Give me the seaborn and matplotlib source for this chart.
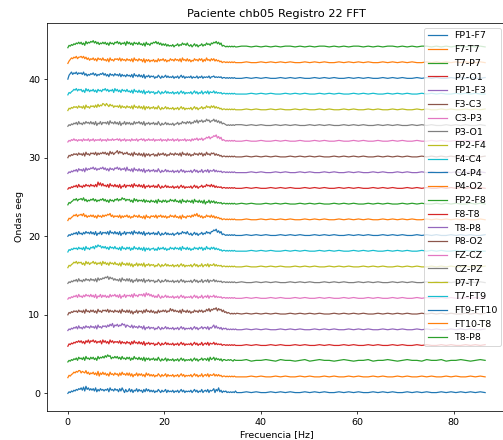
import numpy as np
import pandas as pd
import matplotlib
matplotlib.use("Agg")
import matplotlib.pyplot as plt
import seaborn as sns

# Channel names (bottom trace first)
channels = ["FP1-F7", "F7-T7", "T7-P7", "P7-O1", "FP1-F3", "F3-C3", "C3-P3",
            "P3-O1", "FP2-F4", "F4-C4", "C4-P4", "P4-O2", "FP2-F8", "F8-T8",
            "T8-P8", "P8-O2", "FZ-CZ", "CZ-PZ", "P7-T7", "T7-FT9", "FT9-FT10",
            "FT10-T8", "T8-P8"]

# Vertical offset between traces
offset_step = 2

# Spectral magnitude, one digit = 0.1 units.
# low band: 0-35 Hz every 0.25 Hz ; high band: 36-86.5 Hz
low_band = [
    "0213243546" "5748395746" "4637253645" "3546274536" "4526374152" "3625143625" "3415263524"
    "2413253142" "3514232413" "2413524132" "3241352413" "2513425143" "4615372413" "2312121213" "1",
    "0324576879" "9687695746" "5746382647" "4635274536" "4526374536" "3625143625" "3524163524"
    "2413253142" "3514232413" "2413524132" "3241352413" "2513425143" "3524242312" "2121212121" "1",
    "0213243526" "4536274536" "4635274657" "5869784657" "5746374536" "4625374536" "3526153524"
    "3524263142" "3514232413" "2413524132" "3241352413" "3524425163" "4625342413" "3223232132" "2",
    "0324354657" "5746375847" "6857465738" "5746385746" "5647364536" "4526374536" "3526143524"
    "3413253142" "3524232413" "2413524132" "3241352413" "2513425143" "3524232312" "2121212121" "1",
    "0213243526" "3425364536" "4536274536" "5647586947" "6857697847" "6547364536" "4526143524"
    "3413253142" "3524232413" "2413524132" "3241352413" "3524425143" "5736342413" "2312121212" "1",
    "0324354536" "4536274536" "4635274536" "5647364536" "4536274536" "3625143625" "4526374536"
    "3524263546" "4635485746" "4536274536" "3524364536" "4635475847" "6879586746" "3423212121" "2",
    "0213243526" "3425364536" "3526143625" "3524263546" "3526143625" "4536274536" "5647385746"
    "3524263142" "3524232413" "2413524132" "3241352413" "2513425143" "3524232312" "2121212121" "1",
    "0213243526" "3425364536" "4536274657" "6879586746" "4536274536" "3625143625" "3526143524"
    "3413253142" "3524232413" "2413524132" "3241352413" "2513425143" "3524232312" "2121212121" "1",
    "0324576857" "6746385746" "6857465738" "5746375647" "4536274536" "3625143625" "3526143524"
    "3413253142" "3524232413" "2413524132" "3241352413" "2513425143" "3524232312" "2121212121" "1",
    "0324354536" "4536274536" "5748697857" "5746375647" "4536274536" "4625374536" "3526153524"
    "4524263546" "3524364536" "4536274536" "3524364536" "4625374536" "4635342312" "2121212121" "1",
    "0213243526" "3425364536" "3526143625" "4536274536" "3526143625" "4536274536" "3526143524"
    "3524263142" "3524232413" "3524364536" "3241352413" "3524364536" "6879574623" "2121212121" "1",
    "0324576857" "7869574657" "5746375647" "5768795746" "5647364657" "4635475647" "4536274536"
    "5647365746" "4635475647" "4536274536" "5647586957" "4635475647" "4635342312" "2121212121" "1",
    "0324576857" "7869574657" "6857465768" "5746375647" "6857697857" "6746385746" "5647364536"
    "4536274536" "4635475647" "4536274536" "4536274536" "3526143625" "3524232312" "2121212121" "1",
    "0213243526" "3425364536" "4536395847" "4536274536" "3526143625" "4536274536" "3526143524"
    "3524263142" "3524232413" "2413524132" "3241352413" "3524364536" "3524232312" "2121212121" "1",
    "0213243526" "4536274657" "6857465768" "5746375647" "6857465738" "4536274536" "3526143524"
    "3524263142" "3524232413" "2413524132" "3241352413" "2513425143" "3524232312" "2121212121" "1",
    "0324354536" "4536274536" "5647364657" "5746385746" "7958674657" "4536274536" "3526153524"
    "4524263546" "3524364536" "4536274536" "3524364536" "4625374536" "5635342312" "2121212121" "1",
    "0213242313" "2314232413" "2413232413" "2314232423" "3424132413" "2314232413" "3424132423"
    "2413232413" "2314232413" "2413232413" "2314243524" "3524465746" "6879574623" "2121212121" "1",
    "0213243526" "3425364536" "3526143625" "4536274536" "3526143625" "3524263546" "3526143524"
    "3524263142" "3524232413" "3524364536" "4635475847" "6857697857" "7968574634" "3212121212" "2",
    "0324354536" "4536274536" "5647485769" "8697586746" "5647364536" "4536274536" "3526153524"
    "3524263142" "3524232413" "2413524132" "3241352413" "3524364536" "4635342312" "2121212121" "1",
    "0324576857" "6746385746" "5746375647" "6857465738" "5746375647" "4536274536" "3526143524"
    "3413253142" "3524232413" "2413524132" "3241352413" "2513425143" "3524232312" "2121212121" "1",
    "0579687968" "7869574657" "6857465768" "5746375647" "5647364536" "4536274536" "3526143524"
    "3413253142" "3524232413" "2413524132" "3241322413" "2413232413" "3423232312" "2121212121" "1",
    "0357687968" "8979685746" "5746375647" "4536274536" "5647364536" "4536274536" "4526153524"
    "3524263546" "3524364536" "4536274536" "3524364536" "4625374536" "4635342312" "2121212121" "1",
    "0324354657" "5746385768" "7968574657" "5746375647" "6857465738" "5746375647" "4536274536"
    "5768574635" "3524232413" "3524364536" "3241352413" "3524364536" "5768574623" "2121212121" "1",
]

high_band = [
    "121211212121121212112121211212121121212112121212121",
    "112121121211212112121121211212112121121211212112121",
    "231223213221231232212321223122321232213223122321232",
    "121211212112121121211212112121121211212112121121212",
    "121212112121211212121121212112121211212121121212112",
    "121212121121212121121212121121212121121212121121212",
    "121211212112121121211212112121121211212112121121212",
    "211212121121212112121211212121121212112121212112121",
    "121121212112121211212121121212112121211212121121212",
    "112121211212121121212112121211212121121212112121211",
    "121212112121211212121121212112121211212121121212112",
    "121121212121121212112121212112121212112121212121121",
    "212112121211212121121212112121211212121121212112121",
    "121211212121121212112121211212121121212112121212121",
    "112121121211212112121121211212112121121211212112121",
    "121212121121212121121212121121212121121212121121212",
    "121121121211211212112112121121121211211212112121121",
    "212121121212112121211212121121212112121211212121121",
    "121211212112121121211212112121121211212112121121212",
    "112121211212121121212112121211212121121212112121211",
    "121212112121211212121121212112121211212121121212112",
    "121121212121121212112121212112121212112121212121121",
    "221212121221212122121212212121221212122121212212121",
]

frames = []
for k, (name, lo, hi) in enumerate(zip(channels, low_band, high_band)):
    f = np.concatenate([np.linspace(0, 35, len(lo)), np.linspace(36, 86.5, len(hi))])
    amp = np.array([int(c) for c in lo + hi], dtype=float) / 10.0
    frames.append(pd.DataFrame({"Frecuencia": f, "valor": amp + k * offset_step,
                                "idx": k, "canal": name}))
df = pd.concat(frames, ignore_index=True)

palette = sns.color_palette("tab10")

dpi = 68
fig = plt.figure(figsize=(503 / dpi, 440 / dpi), dpi=dpi)
ax = fig.add_axes([47 / 503, 1 - 411 / 440, (506 - 47) / 503, (411 - 23) / 440])

for k, name in enumerate(channels):
    sub = df[df["idx"] == k]
    sns.lineplot(data=sub, x="Frecuencia", y="valor", ax=ax, color=palette[k % 10],
                 label=name, estimator=None, linewidth=1.3)

ax.set_title("Paciente chb05 Registro 22 FFT")
ax.set_xlabel("Frecuencia [Hz]")
ax.set_ylabel("Ondas eeg")
ax.set_xticks([0, 20, 40, 60, 80])
ax.set_yticks([0, 10, 20, 30, 40])
ax.legend(loc="upper right")

fig.savefig("out.png", dpi=dpi)
